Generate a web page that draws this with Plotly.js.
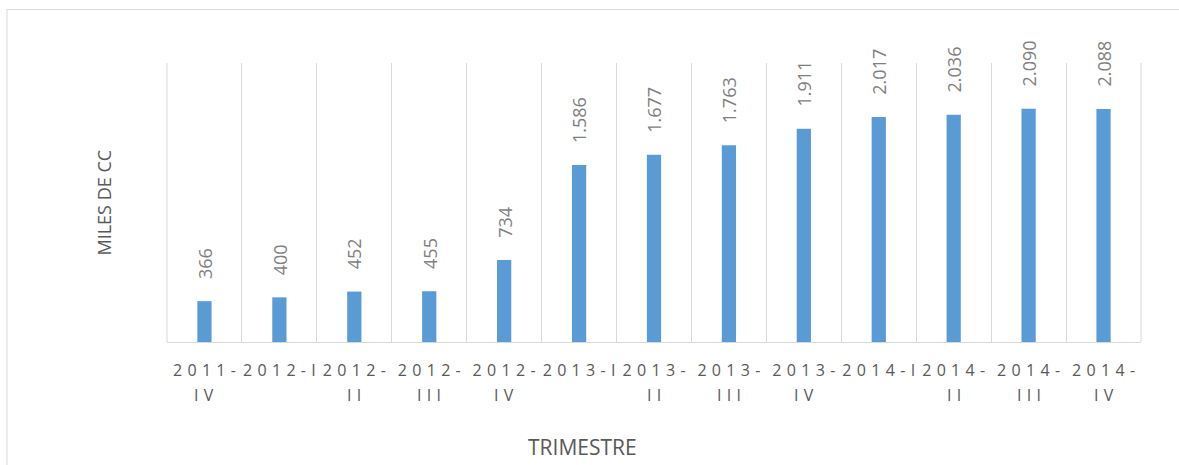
<!DOCTYPE html>
<html>
<head>
<meta charset="utf-8">
<script src="https://cdn.plot.ly/plotly-3.0.1.min.js"></script>
<style>html,body{margin:0;padding:0;background:#fff;}#chart{width:1179px;height:465px;}</style>
</head>
<body>
<div id="chart"></div>
<script>
var categories = ["2011-IV","2012-I","2012-II","2012-III","2012-IV","2013-I","2013-II","2013-III","2013-IV","2014-I","2014-II","2014-III","2014-IV"];
var values = [366, 400, 452, 455, 734, 1586, 1677, 1763, 1911, 2017, 2036, 2090, 2088];
var tickLine1 = ["2011-","2012-I","2012-","2012-","2012-","2013-I","2013-","2013-","2013-","2014-I","2014-","2014-","2014-"];
var tickLine2 = ["IV","","II","III","IV","","II","III","IV","","II","III","IV"];

var SP = "\u2004";
function spaced(s){ return s.split("").join(SP); }
function fmt(v){ var s = String(v); return s.length > 3 ? s.slice(0, s.length-3) + "." + s.slice(-3) : s; }

var trace = {
  type: "bar",
  x: categories,
  y: values,
  width: 0.19,
  marker: {color: "#5b9bd5"},
  hoverinfo: "x+y"
};

var annotations = [];
categories.forEach(function(c, i){
  annotations.push({
    x: c, y: values[i], xref: "x", yref: "y",
    text: fmt(values[i]), textangle: -90,
    showarrow: false, xanchor: "center", yanchor: "bottom", yshift: 20,
    font: {family: "Open Sans", size: 18, color: "#7f7f7f"}
  });
  if (tickLine2[i]) {
    annotations.push({
      x: c, y: -0.19, xref: "x", yref: "paper",
      text: spaced(tickLine2[i]), showarrow: false,
      xanchor: "center", yanchor: "middle",
      font: {family: "Open Sans", size: 16, color: "#595959"}
    });
  }
});
annotations.push({
  x: 0.427, y: -0.376, xref: "paper", yref: "paper",
  text: "TRIMESTRE", showarrow: false, xanchor: "center", yanchor: "middle",
  font: {family: "Open Sans", size: 21, color: "#595959"}
});
annotations.push({
  x: -0.0657, y: 0.5, xref: "paper", yref: "paper",
  text: "MILES DE CC", textangle: -90, showarrow: false, xanchor: "center", yanchor: "middle",
  font: {family: "Open Sans", size: 18, color: "#595959"}
});

var layout = {
  width: 1179, height: 465,
  margin: {l: 167, r: 38, t: 63, b: 123},
  paper_bgcolor: "#ffffff", plot_bgcolor: "#ffffff",
  showlegend: false,
  xaxis: {
    type: "category",
    range: [-0.5, 12.5],
    tickmode: "array",
    tickvals: categories,
    ticktext: tickLine1.map(spaced),
    tickangle: 0,
    tickson: "boundaries",
    ticks: "",
    showgrid: true, gridcolor: "#d9d9d9", gridwidth: 1,
    showline: true, linecolor: "#d9d9d9", linewidth: 1,
    ticklabelstandoff: 14,
    tickfont: {family: "Open Sans", size: 16, color: "#595959"},
    fixedrange: true
  },
  yaxis: {
    range: [0, 2500],
    showgrid: false, zeroline: false, showline: false,
    showticklabels: false, ticks: "",
    fixedrange: true
  },
  annotations: annotations,
  shapes: [
    {type: "rect", xref: "paper", yref: "paper",
     x0: -0.1643, x1: 1.2, y0: -0.6, y1: 1.1918,
     line: {color: "#d9d9d9", width: 1}, fillcolor: "rgba(0,0,0,0)", layer: "below"},
    {type: "line", xref: "paper", yref: "paper", x0: 0, x1: 0, y0: 0, y1: 1,
     line: {color: "#d9d9d9", width: 1}, layer: "below"},
    {type: "line", xref: "paper", yref: "paper", x0: 1, x1: 1, y0: 0, y1: 1,
     line: {color: "#d9d9d9", width: 1}, layer: "below"}
  ]
};

Plotly.newPlot("chart", [trace], layout, {displayModeBar: false, staticPlot: true});
</script>
</body>
</html>
